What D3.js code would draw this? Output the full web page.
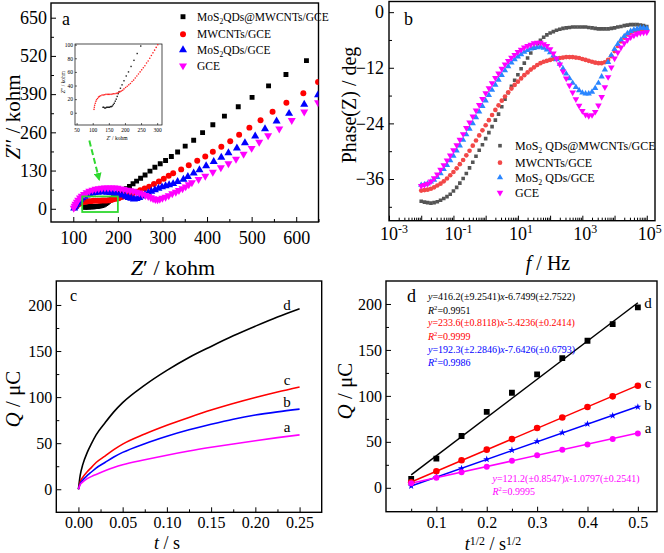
<!DOCTYPE html>
<html><head><meta charset="utf-8">
<script src="https://cdn.jsdelivr.net/npm/d3@7/dist/d3.min.js"></script>
<style>
body{margin:0;background:#fff}
svg{display:block}
text{font-family:"Liberation Serif","Times New Roman",serif;fill:#000}
</style>
</head><body>
<svg id="chart" width="664" height="553"></svg>
<script>
// ---------------- DATA ----------------
// Panel a: Nyquist plot (Z' , Z'') kohm
const nyqBlack = [[125,5],[128,6],[131,6],[134,6],[137,7],[140,7],[143,7],[146,7],[149,8],[152,8],[155,8],[158,9],[161,10],[164,11],[167,13],[170,15],[173,18],[176,21],[179,25],[182,29],[186,33],[190,38],[195,43],[200,48],[206,54],[212,60],[219,68],[226,76],[234,85],[242,94],[251,104],[261,115],[272,128],[283,141],[295,153],[307,164],[320,178],[334,193],[351,213],[370,233],[390,259],[413,286],[439,315],[470,347],[501,379],[538,418],[577,457],[623,504]];
const nyqRed = [[104,4],[106,8],[108,11],[110,14],[113,17],[116,19],[119,21],[122,23],[126,24],[130,25],[135,26],[140,26],[145,27],[150,27],[155,27],[160,27],[165,28],[170,28],[175,28],[180,29],[185,30],[190,32],[196,34],[202,36],[209,40],[216,43],[224,47],[232,51],[241,57],[250,63],[260,69],[270,75],[281,84],[292,93],[303,102],[314,112],[324,121],[342,134],[359,148],[378,163],[396,178],[413,194],[432,211],[452,230],[472,252],[495,276],[520,301],[547,330],[578,361],[616,393],[649,431]];
const nyqBlue = [[102,2],[104,8],[106,14],[109,20],[112,26],[116,32],[120,37],[125,42],[130,46],[136,50],[142,53],[148,55],[155,56],[162,57],[169,57],[176,56],[183,55],[190,54],[197,52],[204,49],[211,46],[218,42],[224,38],[230,35],[236,33],[242,34],[248,38],[254,43],[261,49],[268,54],[275,59],[283,64],[291,69],[299,74],[307,78],[315,81],[324,85],[334,92],[347,100],[357,109],[370,121],[383,132],[398,146],[415,160],[432,175],[448,190],[467,206],[485,224],[508,247],[530,272],[556,298],[584,324],[618,355],[649,387]];
const nyqMag = [[101,2],[103,9],[105,16],[108,23],[111,30],[115,37],[119,43],[124,49],[130,55],[136,60],[143,64],[150,67],[157,69],[164,70],[171,71],[178,71],[185,71],[192,71],[199,70],[206,68],[213,66],[220,64],[227,62],[234,60],[241,57],[248,54],[255,50],[262,46],[268,42],[274,38],[279,35],[284,32],[289,31],[294,33],[300,36],[307,40],[314,45],[322,52],[330,57],[337,63],[345,69],[352,75],[359,82],[366,89],[381,100],[396,111],[413,125],[431,140],[448,154],[465,169],[482,186],[500,206],[517,227],[537,249],[562,272],[590,301],[618,330],[649,361]];
// inset of panel a
const insetBlack = [[132,8],[134,8],[137,7],[140,7],[143,8],[146,8],[149,8],[152,8],[155,9],[158,9],[161,10],[164,12],[167,14],[170,17],[173,20],[176,24],[179,28],[182,31],[186,36],[191,41],[197,47],[204,54],[211,60],[219,68],[228,77],[238,87],[249,98]];
const insetRed = [[104,5],[105,8],[106,11],[108,14],[110,17],[112,19],[115,21],[118,23],[121,24],[125,25],[129,26],[133,26],[137,26.5],[141,27],[145,27],[149,27],[153,27],[157,27],[161,27.5],[165,28],[169,28],[173,28.5],[177,29],[181,30],[185,31],[189,32],[193,33],[197,35],[202,37],[207,39],[212,41],[217,43],[222,46],[227,48],[232,51],[237,54],[242,57],[247,60],[252,63],[257,66],[262,69],[267,73],[272,76],[277,80],[282,84],[287,88],[292,92],[297,96],[302,100]];
const legendA = ["MoS|2|QDs@MWCNTs/GCE","MWCNTs/GCE","MoS|2|QDs/GCE","GCE"];

// Panel b: Bode phase plot
const freq = [0.01,0.0126,0.0158,0.02,0.0251,0.0316,0.0398,0.0501,0.0631,0.0794,
0.1,0.126,0.158,0.2,0.251,0.316,0.398,0.501,0.631,0.794,
1,1.26,1.58,2,2.51,3.16,3.98,5.01,6.31,7.94,
10,12.6,15.8,20,25.1,31.6,39.8,50.1,63.1,79.4,
100,126,158,200,251,316,398,501,631,794,
1000,1260,1580,2000,2510,3160,3980,5010,6310,7940,
10000,12600,15800,20000,25100,31600,39800,50100,63100,79400,100000];
const phaseBlack = [-40.8,-41.0,-41.1,-41.2,-41.1,-40.9,-40.6,-40.2,-39.8,-39.3,
-38.6,-37.8,-36.9,-35.9,-34.8,-33.6,-32.4,-31.1,-29.8,-28.6,
-27.3,-26.0,-24.7,-23.3,-22.0,-20.4,-18.8,-17.4,-16.0,-14.7,
-13.5,-12.2,-11.0,-9.9,-8.8,-7.8,-6.8,-6.1,-5.4,-4.9,
-4.5,-4.2,-3.9,-3.7,-3.5,-3.4,-3.3,-3.2,-3.2,-3.2,
-3.2,-3.2,-3.3,-3.4,-3.5,-3.6,-3.6,-3.6,-3.6,-3.5,
-3.4,-3.2,-3.1,-2.9,-2.8,-2.7,-2.7,-2.7,-2.8,-2.9,-3.1];
const phaseRed = [-38.5,-38.4,-38.3,-38.1,-37.8,-37.4,-37.0,-36.5,-35.9,-35.2,
-34.5,-33.7,-32.8,-31.9,-30.9,-29.9,-28.8,-27.7,-26.6,-25.5,
-24.4,-23.3,-22.2,-21.1,-20.1,-19.1,-18.2,-17.3,-16.5,-15.7,
-15.0,-14.3,-13.6,-13.0,-12.4,-11.9,-11.4,-11.0,-10.7,-10.5,
-10.3,-10.1,-10.0,-9.9,-9.8,-9.7,-9.7,-9.7,-9.8,-9.9,
-10.1,-10.3,-10.5,-10.7,-10.9,-11.0,-11.0,-10.8,-10.3,-9.5,
-8.4,-7.3,-6.3,-5.5,-4.8,-4.4,-4.1,-3.9,-3.9,-3.9,-4.0];
const phaseBlue = [-37.3,-37.2,-37.0,-36.6,-36.2,-35.6,-34.8,-33.9,-33.0,-32.0,
-31.0,-29.9,-28.8,-27.6,-26.4,-25.2,-24.0,-22.7,-21.5,-20.3,
-19.1,-17.9,-16.8,-15.7,-14.6,-13.6,-12.6,-11.7,-10.9,-10.2,
-9.6,-9.1,-8.6,-8.2,-7.9,-7.7,-7.6,-7.5,-7.7,-8.1,
-8.7,-9.4,-10.2,-11.2,-12.2,-13.3,-14.3,-15.3,-16.2,-16.9,
-17.4,-17.6,-17.6,-17.2,-16.4,-15.3,-13.9,-12.4,-10.8,-9.3,
-8.0,-6.9,-6.0,-5.2,-4.6,-4.1,-3.8,-3.6,-3.4,-3.4,-3.5];
const phaseMag = [-37.5,-37.3,-37.0,-36.5,-35.8,-35.0,-34.0,-33.0,-32.0,-30.9,
-29.8,-28.7,-27.5,-26.3,-25.0,-23.8,-22.5,-21.2,-20.0,-18.7,
-17.5,-16.4,-15.3,-14.2,-13.2,-12.2,-11.3,-10.5,-9.8,-9.2,
-8.6,-8.1,-7.6,-7.3,-7.0,-6.7,-6.6,-6.6,-6.9,-7.3,
-8.0,-8.9,-10.0,-11.3,-12.8,-14.3,-15.8,-17.3,-18.8,-20.2,
-21.3,-22.1,-22.4,-22.2,-21.5,-20.1,-18.3,-16.2,-14.0,-11.9,
-10.0,-8.7,-7.6,-6.7,-6.0,-5.4,-5.0,-4.7,-4.5,-4.4,-4.3];
const legendB = ["MoS|2| QDs@MWCNTs/GCE","MWCNTs/GCE","MoS|2| QDs/GCE","GCE"];
const bXLabelExp = [-3,-1,1,3,5];

// Panel c: chronocoulometry Q vs t
const tC = [0,0.002,0.005,0.01,0.015,0.02,0.03,0.04,0.05,0.075,0.1,0.125,0.15,0.175,0.2,0.225,0.25];
const qCd = [0,15,27,40,50,59,72,84,94,113,129,143,155,166.5,177,187,196];
const qCc = [0,8,13,19,24,29,36,43,49,60,69.5,78,86,93,99.5,105.5,111];
const qCb = [0,6,10,15,19,23,29,35,40,49.5,57.5,64.5,70.5,76,80.5,84,87];
const qCa = [0,5,8,11.5,14,16,20,23.5,26.5,32,37,41.5,45.5,49.2,52.7,56,59];
const curveLabels = ["d","c","b","a"];

// Panel d: Q vs t^1/2
const sqrtT = [0.05,0.1,0.15,0.2,0.25,0.3,0.35,0.4,0.45,0.5];
const qDd = [9.8,31.7,56.4,82.6,103.4,123.5,141,160,178,196.3];
const qDc = [6,18,30,41.5,53,65,76.5,88,99.5,111];
const qDb = [2,11.5,21,31,41,50.5,60,69.5,78.5,88];
const qDa = [5,11,17,23,29.5,35.5,41.5,47,53,59];
const fitSlope = [416.2,233.6,192.3,121.2];
const fitIntercept = [-6.7499,-5.4236,-7.6426,-1.0797];
const fitEq = ["416.2(±9.2541)","233.6(±0.8118)","192.3(±2.2846)","121.2(±0.8547)"];
const fitEqB = ["6.7499(±2.7522)","5.4236(±0.2414)","7.6426(±0.6793)","1.0797(±0.2541)"];
const fitR2 = ["0.9951","0.9999","0.9986","0.9995"];

// ---------------- DRAW ----------------
const svg = d3.select("#chart");
const defs = svg.append("defs");

function rich(sel, parts, fs, supShift){
  let shift = 0;
  const ss = supShift || 0.38;
  parts.forEach(p=>{
    const ts = sel.append("tspan").text(p.t);
    const target = p.sub ? 0.28*fs : (p.sup ? -ss*fs : 0);
    ts.attr("dy", target - shift);
    shift = target;
    if(p.sub || p.sup) ts.attr("font-size", fs*0.66);
    if(p.i) ts.attr("font-style","italic");
  });
}
function partsFromPipe(s){
  return s.split("|").map((t,i)=>({t, sub: i%2===1}));
}

function panel(id, x, y, cfg){
  const [x0,x1] = x.range(), [yb,yt] = y.range();
  const g = svg.append("g");
  defs.append("clipPath").attr("id","clip"+id).append("rect")
    .attr("x",x0).attr("y",yt).attr("width",x1-x0).attr("height",yb-yt);
  g.append("g").attr("transform",`translate(0,${yb})`)
    .call(d3.axisBottom(x).tickValues(cfg.xMajor).tickSize(-5).tickPadding(cfg.xPad)
      .tickFormat(cfg.xFmt || (()=>"")));
  g.append("g").attr("transform",`translate(0,${yb})`)
    .call(d3.axisBottom(x).tickValues(cfg.xMinor).tickSize(-3).tickFormat(()=>""));
  g.append("g").attr("transform",`translate(${x0},0)`)
    .call(d3.axisLeft(y).tickValues(cfg.yMajor).tickSize(-5).tickPadding(cfg.yPad)
      .tickFormat(cfg.yFmt || (()=>"")));
  g.append("g").attr("transform",`translate(${x0},0)`)
    .call(d3.axisLeft(y).tickValues(cfg.yMinor).tickSize(-3).tickFormat(()=>""));
  g.selectAll(".domain").remove();
  g.selectAll(".tick line").attr("stroke","#000").attr("stroke-width",1);
  g.selectAll(".tick text").attr("font-family",'"Liberation Serif","Times New Roman",serif')
    .attr("font-size",cfg.fs).attr("fill","#000");
  g.append("rect").attr("x",x0).attr("y",yt).attr("width",x1-x0).attr("height",yb-yt)
    .attr("fill","none").attr("stroke","#000").attr("stroke-width",1.4);
  const plot = svg.append("g").attr("clip-path",`url(#clip${id})`);
  return {g, plot};
}

function markers(sel, data, x, y, type, size, color, rot){
  const sym = d3.symbol().type(type).size(size);
  sel.append("g").selectAll("path").data(data).join("path")
    .attr("d", sym)
    .attr("transform", d=>`translate(${x(d[0])},${y(d[1])})${rot?" rotate(180)":""}`)
    .attr("fill", color);
}

// ===== Panel a =====
const xA = d3.scaleLinear().domain([50,650]).range([51,318.5]);
const yA = d3.scaleLinear().domain([-45,700]).range([222,3]);
const pA = panel("a", xA, yA, {
  xMajor:[100,200,300,400,500,600], xMinor:[150,250,350,450,550,650],
  yMajor:[0,130,260,390,520,650], yMinor:[65,195,325,455,585],
  xFmt:d3.format("d"), yFmt:d3.format("d"), fs:18, xPad:9, yPad:4
});
const colsA = ["#000000","#ff0000","#0000ff","#ff00ff"];
markers(pA.plot, nyqBlack, xA, yA, d3.symbolSquare, 24, colsA[0]);
markers(pA.plot, nyqRed, xA, yA, d3.symbolCircle, 28, colsA[1]);
markers(pA.plot, nyqBlue, xA, yA, d3.symbolTriangle, 28, colsA[2]);
markers(pA.plot, nyqMag, xA, yA, d3.symbolTriangle, 28, colsA[3], true);
pA.plot.append("rect").attr("x",xA(120)).attr("y",yA(42)).attr("width",xA(200)-xA(120))
  .attr("height",yA(-11)-yA(42)).attr("fill","none").attr("stroke","#2fd82f").attr("stroke-width",1.8);
defs.append("marker").attr("id","arrG").attr("viewBox","0 0 10 10").attr("refX",8).attr("refY",5)
  .attr("markerWidth",4).attr("markerHeight",4).attr("orient","auto")
  .append("path").attr("d","M0,0L10,5L0,10z").attr("fill","#2fd82f");
pA.plot.append("line").attr("x1",xA(136)).attr("y1",yA(232)).attr("x2",xA(158)).attr("y2",yA(100))
  .attr("stroke","#2fd82f").attr("stroke-width",2).attr("stroke-dasharray","6,3")
  .attr("marker-end","url(#arrG)");
const legYA = [16.7,34.3,50,65.7];
const legTypesA = [[d3.symbolSquare,24,false],[d3.symbolCircle,28,false],[d3.symbolTriangle,28,false],[d3.symbolTriangle,28,true]];
legendA.forEach((s,i)=>{
  const [t,sz,rot] = legTypesA[i];
  svg.append("path").attr("d",d3.symbol().type(t).size(sz)())
    .attr("transform",`translate(183,${legYA[i]})${rot?" rotate(180)":""}`).attr("fill",colsA[i]);
  const tx = svg.append("text").attr("x",197).attr("y",legYA[i]+4).attr("font-size",11.5);
  rich(tx, partsFromPipe(s), 11.5);
});
svg.append("text").attr("x",62).attr("y",25).attr("font-size",18).text("a");
{
  const t = svg.append("text").attr("text-anchor","middle").attr("font-size",21)
    .attr("transform","translate(20,117) rotate(-90)");
  rich(t,[{t:"Z",i:true},{t:"′′ / kohm"}],21);
  const t2 = svg.append("text").attr("text-anchor","middle").attr("font-size",22)
    .attr("x",173).attr("y",275);
  rich(t2,[{t:"Z",i:true},{t:"′ / kohm"}],22);
}
// inset
{
  const xI = d3.scaleLinear().domain([45,315]).range([75,162]);
  const yI = d3.scaleLinear().domain([-18,101]).range([125,44]);
  const gI = svg.append("g");
  gI.append("rect").attr("x",75).attr("y",44).attr("width",87).attr("height",81).attr("fill","#fff");
  gI.append("g").attr("transform","translate(0,125)")
    .call(d3.axisBottom(xI).tickValues([50,100,150,200,250,300]).tickSize(-2).tickPadding(3).tickFormat(d3.format("d")));
  gI.append("g").attr("transform","translate(75,0)")
    .call(d3.axisLeft(yI).tickValues([0,20,40,60,80,100]).tickSize(-2).tickPadding(2).tickFormat(d3.format("d")));
  gI.selectAll(".domain").remove();
  gI.selectAll(".tick line").attr("stroke","#000").attr("stroke-width",0.6);
  gI.selectAll(".tick text").attr("font-size",5.5).attr("fill","#222")
    .attr("font-family",'"Liberation Serif",serif');
  gI.append("rect").attr("x",75).attr("y",44).attr("width",87).attr("height",81)
    .attr("fill","none").attr("stroke","#000").attr("stroke-width",0.7);
  insetBlack.forEach(d=>gI.append("rect").attr("x",xI(d[0])-0.7).attr("y",yI(d[1])-0.7)
    .attr("width",1.4).attr("height",1.4).attr("fill","#222"));
  insetRed.forEach(d=>gI.append("circle").attr("cx",xI(d[0])).attr("cy",yI(d[1])).attr("r",0.8).attr("fill","#ff2020"));
  const t1 = gI.append("text").attr("x",117).attr("y",140).attr("text-anchor","middle").attr("font-size",5.5);
  rich(t1,[{t:"Z",i:true},{t:"′ / kohm"}],5.5);
  const t2 = gI.append("text").attr("text-anchor","middle").attr("font-size",5.5)
    .attr("transform","translate(65,82) rotate(-90)");
  rich(t2,[{t:"Z",i:true},{t:"′′ / kohm"}],5.5);
}

// ===== Panel b =====
const xB = d3.scaleLog().domain([1e-3,1.8e5]).range([389,655]);
const yB = d3.scaleLinear().domain([-45,2.3]).range([220.7,1.5]);
const decades = [1e-3,1e-2,1e-1,1,10,100,1e3,1e4,1e5];
const minorB = [];
decades.slice(0,-1).forEach(d=>{ for(let k=2;k<=9;k++) minorB.push(d*k); });
const pB = panel("b", xB, yB, {
  xMajor:decades, xMinor:minorB, yMajor:[0,-12,-24,-36], yMinor:[-6,-18,-30,-42],
  yFmt:d3.format("d"), fs:18, xPad:6, yPad:5
});
const colsB = ["#555555","#f24848","#2a86ff","#ff00ff"];
const zipB = arr => freq.map((f,i)=>[f,arr[i]]);
markers(pB.plot, zipB(phaseBlack), xB, yB, d3.symbolSquare, 13, colsB[0]);
markers(pB.plot, zipB(phaseRed), xB, yB, d3.symbolCircle, 17, colsB[1]);
markers(pB.plot, zipB(phaseBlue), xB, yB, d3.symbolTriangle, 17, colsB[2]);
markers(pB.plot, zipB(phaseMag), xB, yB, d3.symbolTriangle, 19, colsB[3], true);
bXLabelExp.forEach(e=>{
  const t = svg.append("text").attr("x",xB(Math.pow(10,e))-9).attr("y",240).attr("font-size",18);
  rich(t,[{t:"10"},{t:String(e),sup:true}],18);
});
const legYB = [145.7,162.7,177.5,192.7];
const legTypesB = [[d3.symbolSquare,13,false],[d3.symbolCircle,17,false],[d3.symbolTriangle,17,false],[d3.symbolTriangle,19,true]];
legendB.forEach((s,i)=>{
  const [t,sz,rot] = legTypesB[i];
  svg.append("path").attr("d",d3.symbol().type(t).size(sz)())
    .attr("transform",`translate(500,${legYB[i]})${rot?" rotate(180)":""}`).attr("fill",colsB[i]);
  const tx = svg.append("text").attr("x",515).attr("y",legYB[i]+4).attr("font-size",12);
  rich(tx, partsFromPipe(s), 12);
});
svg.append("text").attr("x",404).attr("y",25).attr("font-size",18).text("b");
{
  svg.append("text").attr("text-anchor","middle").attr("font-size",20)
    .attr("transform","translate(356,105) rotate(-90)").text("Phase(Z) / deg");
  const t2 = svg.append("text").attr("text-anchor","middle").attr("font-size",20)
    .attr("x",548).attr("y",270);
  rich(t2,[{t:"f",i:true},{t:" / Hz"}],20);
}

// ===== Panel c =====
const xC = d3.scaleLinear().domain([-0.025,0.275]).range([56.3,321.7]);
const yC = d3.scaleLinear().domain([-25,226]).range([512.3,281]);
const pC = panel("c", xC, yC, {
  xMajor:[0,0.05,0.1,0.15,0.2,0.25], xMinor:[0.025,0.075,0.125,0.175,0.225],
  yMajor:[0,50,100,150,200], yMinor:[25,75,125,175],
  xFmt:d3.format(".2f"), yFmt:d3.format("d"), fs:16, xPad:4.5, yPad:4
});
const colsC = ["#000000","#ff0000","#0000ff","#ff00ff"];
const lineC = d3.line().x(d=>xC(d[0])).y(d=>yC(d[1])).curve(d3.curveMonotoneX);
[qCd,qCc,qCb,qCa].forEach((arr,i)=>{
  pC.plot.append("path").datum(tC.map((t,j)=>[t,arr[j]])).attr("d",lineC)
    .attr("fill","none").attr("stroke",colsC[i]).attr("stroke-width",1.6);
});
const labYC = [310,385,406.7,432.3];
curveLabels.forEach((s,i)=>svg.append("text").attr("x",287).attr("y",labYC[i])
  .attr("text-anchor","middle").attr("font-size",15).text(s));
svg.append("text").attr("x",70).attr("y",301).attr("font-size",16).text("c");
{
  const t = svg.append("text").attr("text-anchor","middle").attr("font-size",21)
    .attr("transform","translate(20,399) rotate(-90)");
  rich(t,[{t:"Q",i:true},{t:" / μC"}],21);
  const t2 = svg.append("text").attr("text-anchor","middle").attr("font-size",18)
    .attr("x",167).attr("y",549);
  rich(t2,[{t:"t",i:true},{t:" / s"}],18);
}

// ===== Panel d =====
const xD = d3.scaleLinear().domain([0,0.538]).range([386,657]);
const yD = d3.scaleLinear().domain([-26,225]).range([511.7,281]);
const pD = panel("d", xD, yD, {
  xMajor:[0.1,0.2,0.3,0.4,0.5], xMinor:[0.05,0.15,0.25,0.35,0.45],
  yMajor:[0,50,100,150,200], yMinor:[25,75,125,175],
  xFmt:d3.format(".1f"), yFmt:d3.format("d"), fs:16, xPad:4.5, yPad:4
});
[0,1,2,3].forEach(i=>{
  const x1 = sqrtT[0], x2 = sqrtT[sqrtT.length-1];
  pD.plot.append("line").attr("x1",xD(x1)).attr("y1",yD(fitSlope[i]*x1+fitIntercept[i]))
    .attr("x2",xD(x2)).attr("y2",yD(fitSlope[i]*x2+fitIntercept[i]))
    .attr("stroke",colsC[i]).attr("stroke-width",1.5);
});
const zipD = arr => sqrtT.map((t,i)=>[t,arr[i]]);
markers(pD.plot, zipD(qDd), xD, yD, d3.symbolSquare, 34, colsC[0]);
markers(pD.plot, zipD(qDc), xD, yD, d3.symbolCircle, 34, colsC[1]);
markers(pD.plot, zipD(qDb), xD, yD, d3.symbolStar, 16, colsC[2]);
markers(pD.plot, zipD(qDa), xD, yD, d3.symbolCircle, 28, colsC[3]);
const labYD = [308.3,387.7,410,433.3];
curveLabels.forEach((s,i)=>svg.append("text").attr("x",648).attr("y",labYD[i])
  .attr("text-anchor","middle").attr("font-size",15).text(s));
svg.append("text").attr("x",407).attr("y",301.5).attr("font-size",18).text("d");
const eqPos = [[428,300,313.5],[428,326,339.5],[428,352.5,366],[492.5,482,495]];
[0,1,2,3].forEach(i=>{
  const [ex,ey1,ey2] = eqPos[i];
  const t = svg.append("text").attr("x",ex).attr("y",ey1).attr("font-size",10).style("fill",colsC[i]);
  rich(t,[{t:"y",i:true},{t:"="+fitEq[i]},{t:"x",i:true},{t:"-"+fitEqB[i]}],10);
  const r = svg.append("text").attr("x",ex).attr("y",ey2).attr("font-size",10).style("fill",colsC[i]);
  rich(r,[{t:"R",i:true},{t:"2",sup:true},{t:"="+fitR2[i]}],10);
});
{
  const t = svg.append("text").attr("text-anchor","middle").attr("font-size",21)
    .attr("transform","translate(352,391) rotate(-90)");
  rich(t,[{t:"Q",i:true},{t:" / μC"}],21);
  const t2 = svg.append("text").attr("text-anchor","middle").attr("font-size",18)
    .attr("x",493).attr("y",550);
  rich(t2,[{t:"t",i:true},{t:"1/2",sup:true},{t:" / s"},{t:"1/2",sup:true}],18,0.3);
}
</script>
</body></html>
